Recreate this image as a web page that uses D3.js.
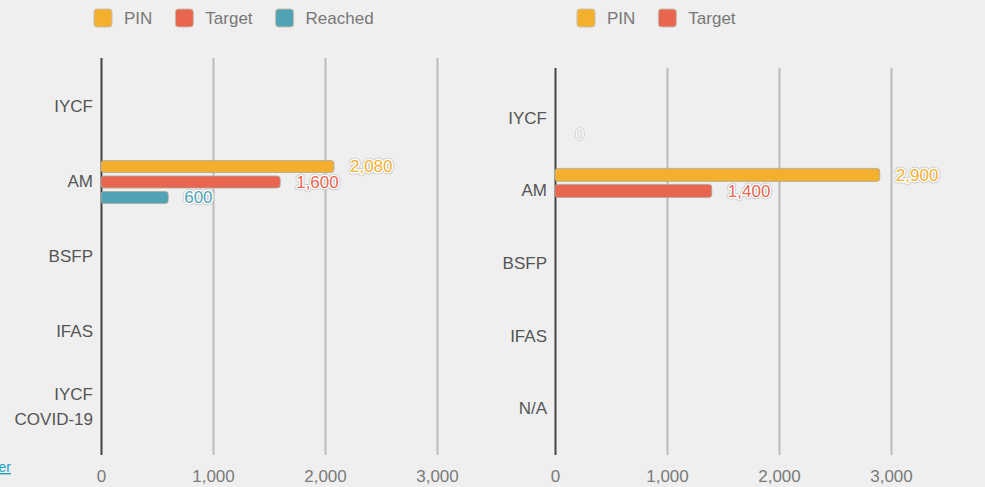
<!DOCTYPE html>
<html>
<head>
<meta charset="utf-8">
<script src="https://cdn.jsdelivr.net/npm/d3@7"></script>
<style>
  body { margin: 0; background: #efefef; }
  svg { display: block; }
  svg text { font-family: "Liberation Sans", Arial, sans-serif; }
</style>
</head>
<body>
<svg id="chart" width="985" height="487"></svg>
<script>
// left chart data
var categoriesLeft = ["IYCF", "AM", "BSFP", "IFAS", "IYCF\nCOVID-19"];
var pinLeft = [null, 2080, null, null, null];
var targetLeft = [null, 1600, null, null, null];
var reachedLeft = [null, 600, null, null, null];

// right chart data (third slot only shows a 0 label, no legend entry)
var categoriesRight = ["IYCF", "AM", "BSFP", "IFAS", "N/A"];
var pinRight = [null, 2900, null, null, null];
var targetRight = [null, 1400, null, null, null];
var otherRight = [0, null, null, null, null];

var xTicks = [0, 1000, 2000, 3000];

var colors = {pin: "#f2b02e", target: "#e8654f", reached: "#4fa3b4", other: "#ffffff"};

var svg = d3.select("#chart");
var fmt = d3.format(",");

function draw_chart(opts) {
  var g = svg.append("g");
  var x = d3.scaleLinear().domain([0, 3000]).range([opts.x0, opts.x0 + 336]);
  var y = d3.scaleBand().domain(opts.categories).range([opts.bandTop, opts.bandBottom]);

  // grid + bottom labels
  var xAxis = g.append("g")
      .attr("transform", "translate(0," + opts.bottom + ")")
      .call(d3.axisBottom(x).tickValues(xTicks).tickFormat(fmt)
        .tickSizeInner(-(opts.bottom - opts.top)).tickSizeOuter(0).tickPadding(15));
  xAxis.attr("font-family", null).attr("font-size", 17);
  xAxis.select(".domain").remove();
  xAxis.selectAll(".tick line")
      .attr("stroke", function(d) { return d == 0 ? "#444" : "#bbb"; })
      .attr("stroke-width", 2);
  xAxis.selectAll(".tick text").attr("fill", "#7a7a7a");

  // category labels
  var yAxis = g.append("g")
      .attr("transform", "translate(" + opts.x0 + ",0)")
      .call(d3.axisLeft(y).tickSize(0).tickPadding(8));
  yAxis.attr("font-family", null).attr("font-size", 17);
  yAxis.select(".domain").remove();
  yAxis.selectAll(".tick text")
      .attr("fill", "#555")
      .each(function(d) {
        var lines = d.split("\n");
        if (lines.length < 2) return;
        var t = d3.select(this).text("");
        lines.forEach(function(l, i) {
          t.append("tspan").attr("x", -8).attr("dy", i == 0 ? "-0.4em" : "1.45em").text(l);
        });
      });

  var step = opts.slotStep;
  opts.series.forEach(function(s, si) {
    var pts = s.values.map(function(v, i) { return {cat: opts.categories[i], v: v}; })
        .filter(function(d) { return d.v != null; });
    var cy = function(d) { return y(d.cat) + y.bandwidth() / 2 + (si - 1) * step; };

    g.selectAll(null).data(pts.filter(function(d) { return d.v > 0; })).enter().append("rect")
        .attr("x", x(0))
        .attr("y", function(d) { return cy(d) - opts.barH / 2; })
        .attr("width", function(d) { return x(d.v) - x(0); })
        .attr("height", opts.barH)
        .attr("rx", 3)
        .attr("fill", s.color)
        .attr("stroke", "#b0a89a").attr("stroke-width", 0.8);

    // value labels: grey outer edge, white halo, coloured fill
    var layers = s.color == "#ffffff" ? [["#bdbdbd", 1.2], [null, 0]] : [["#c4c4c4", 4.5], ["#ffffff", 3], [null, 0]];
    layers.forEach(function(layer) {
      g.selectAll(null).data(pts).enter().append("text")
          .attr("x", function(d) { return x(d.v) + (d.v > 0 ? 16 : 20); })
          .attr("y", cy)
          .attr("dy", "0.35em")
          .attr("font-size", 17)
          .attr("fill", layer[0] ? layer[0] : s.color)
          .attr("stroke", layer[0])
          .attr("stroke-width", layer[1])
          .attr("stroke-linejoin", "round")
          .text(function(d) { return fmt(d.v); });
    });
  });

  // legend
  var lx = opts.legendX;
  opts.series.filter(function(s) { return s.name; }).forEach(function(s) {
    svg.append("rect").attr("x", lx).attr("y", 9).attr("width", 18).attr("height", 18)
        .attr("rx", 3).attr("fill", s.color).attr("stroke", "#c8bfae").attr("stroke-width", 1);
    var t = svg.append("text").attr("x", lx + 30).attr("y", 18).attr("dy", "0.35em")
        .attr("font-size", 17).attr("fill", "#777").text(s.name);
    lx += 30 + t.node().getComputedTextLength() + 23;
  });
}

draw_chart({
  categories: categoriesLeft, x0: 101, top: 58, bottom: 455,
  bandTop: 69.5, bandBottom: 444.5, slotStep: 15.5, barH: 12, legendX: 94,
  series: [
    {name: "PIN", values: pinLeft, color: colors.pin},
    {name: "Target", values: targetLeft, color: colors.target},
    {name: "Reached", values: reachedLeft, color: colors.reached}
  ]
});

draw_chart({
  categories: categoriesRight, x0: 555, top: 68, bottom: 455,
  bandTop: 82, bandBottom: 445, slotStep: 16, barH: 13, legendX: 577,
  series: [
    {name: "PIN", values: pinRight, color: colors.pin},
    {name: "Target", values: targetRight, color: colors.target},
    {name: null, values: otherRight, color: colors.other}
  ]
});

// clipped link text at the bottom left
svg.append("text").attr("x", 11).attr("y", 472).attr("text-anchor", "end")
    .attr("font-size", 14).attr("fill", "#1a9fc7").attr("text-decoration", "underline")
    .text("er");
</script>
</body>
</html>
